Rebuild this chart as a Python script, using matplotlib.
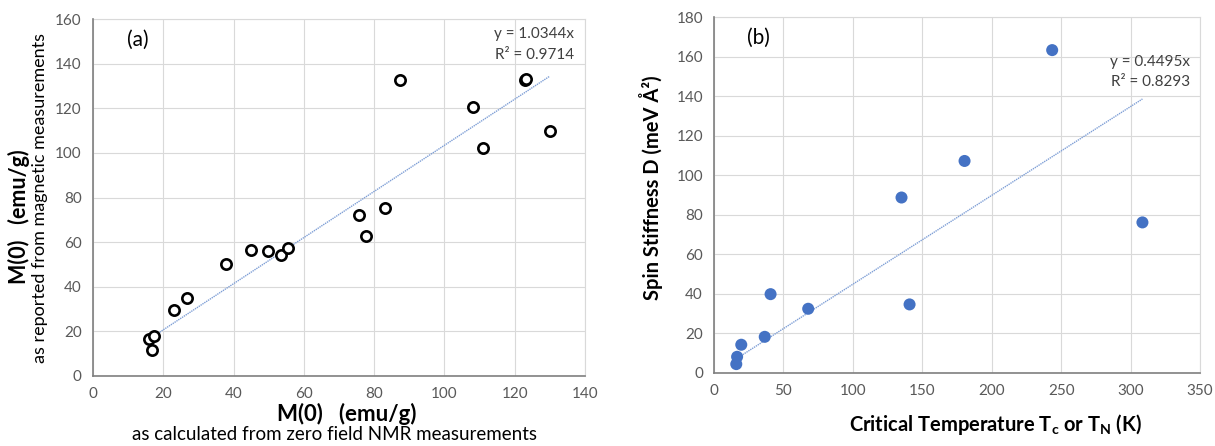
import matplotlib
matplotlib.use('Agg')
import matplotlib.pyplot as plt
import numpy as np

plt.rcParams['font.family'] = ['Lato', 'DejaVu Sans']

# (a) M(0) from zero-field NMR vs. M(0) from magnetisation data
nmr_m0 = [15.9, 17.5, 16.7, 23.0, 26.7, 37.9, 45.1, 49.7, 53.4, 55.5,
          75.8, 77.7, 83.2, 87.5, 108.2, 111.0, 122.9, 123.1, 129.9]
mag_m0 = [16.4, 17.9, 11.5, 29.5, 35.0, 50.4, 56.7, 56.2, 54.4, 57.3,
          72.3, 62.9, 75.2, 132.7, 120.5, 102.1, 132.7, 133.0, 110.0]
slope_a = 1.0344
r2_a = 0.9714

# (b) spin stiffness vs. critical temperature
crit_temp = [16.0, 16.6, 19.6, 36.5, 40.7, 67.8, 135.0, 140.8, 180.4, 243.5, 308.5]
stiffness = [4.5, 8.2, 14.3, 18.3, 39.9, 32.5, 88.8, 34.7, 107.3, 163.4, 76.2]
slope_b = 0.4495
r2_b = 0.8293

TICK_COLOR = '#595959'
GRID_COLOR = '#d9d9d9'
AXIS_COLOR = '#7f7f7f'
TREND_COLOR = '#7f9fd6'
W, H = 1215, 446


def style_axes(ax, xmax, ymax, xstep, ystep):
    ax.set_xlim(0, xmax)
    ax.set_ylim(0, ymax)
    ax.set_xticks(np.arange(0, xmax + 1, xstep))
    ax.set_yticks(np.arange(0, ymax + 1, ystep))
    ax.grid(True, color=GRID_COLOR, lw=0.8)
    ax.set_axisbelow(True)
    for side in ['top', 'right']:
        ax.spines[side].set_visible(False)
    for side in ['left', 'bottom']:
        ax.spines[side].set_color(AXIS_COLOR)
        ax.spines[side].set_linewidth(1.2)
    ax.tick_params(length=0, labelsize=11, labelcolor=TICK_COLOR, pad=8)
    # top and right edges drawn as grid lines
    ax.axhline(ymax, color=GRID_COLOR, lw=0.8, clip_on=False)
    ax.axvline(xmax, color=GRID_COLOR, lw=0.8, clip_on=False)


def label(px, py, s, size, bold=False, rot=0):
    # place text by its baseline, in pixel coordinates from top-left
    fig.text(px / W, 1 - py / H, s, fontsize=size, rotation=rot, rotation_mode='anchor',
             fontweight='bold' if bold else 'normal', ha='center', va='baseline')


fig = plt.figure(figsize=(12.15, 4.46), dpi=100)

ax1 = fig.add_axes([0.0765, 0.157, 0.405, 0.800])
style_axes(ax1, 140, 160, 20, 20)
xa = np.array([min(nmr_m0) + 1.5, max(nmr_m0)])
ax1.plot(xa, slope_a * xa, color=TREND_COLOR, lw=1.0, ls=(0, (1, 0.6)))
ax1.scatter(nmr_m0, mag_m0, s=55, facecolors='white', edgecolors='black', linewidths=1.9, zorder=3)
ax1.text(12.8, 150.7, '(a)', fontsize=15, ha='center', va='center')
ax1.text(136.8, 153.4, 'y = %.4fx' % slope_a, fontsize=11, ha='right', va='center', color='#404040')
ax1.text(136.8, 143.9, 'R² = %.4f' % r2_a, fontsize=11, ha='right', va='center', color='#404040')

label(26, 217, 'M(0)   (emu/g)', 15.5, bold=True, rot=90)
label(45, 198, 'as reported from magnetic measurements', 13, rot=90)
label(347, 421, 'M(0)   (emu/g)', 16, bold=True)
label(335, 440, 'as calculated from zero field NMR measurements', 13.5)

ax2 = fig.add_axes([0.5877, 0.1637, 0.400, 0.7975])
style_axes(ax2, 350, 180, 50, 20)
xb = np.array([min(crit_temp) + 0.6, max(crit_temp)])
ax2.plot(xb, slope_b * xb, color=TREND_COLOR, lw=1.0, ls=(0, (1, 0.6)))
ax2.scatter(crit_temp, stiffness, s=75, color='#4472c4', edgecolors='none', zorder=3)
ax2.text(32, 169.6, '(b)', fontsize=15, ha='center', va='center')
ax2.text(343, 157.4, 'y = %.4fx' % slope_b, fontsize=11, ha='right', va='center', color='#404040')
ax2.text(343, 147.5, 'R² = %.4f' % r2_b, fontsize=11, ha='right', va='center', color='#404040')

label(659, 188, 'Spin Stiffness D (meV Å²)', 14.5, bold=True, rot=90)
label(995, 431, r'Critical Temperature T$_\mathregular{c}$ or T$_\mathregular{N}$ (K)', 14.5, bold=True)

fig.savefig('out.png', dpi=100)
